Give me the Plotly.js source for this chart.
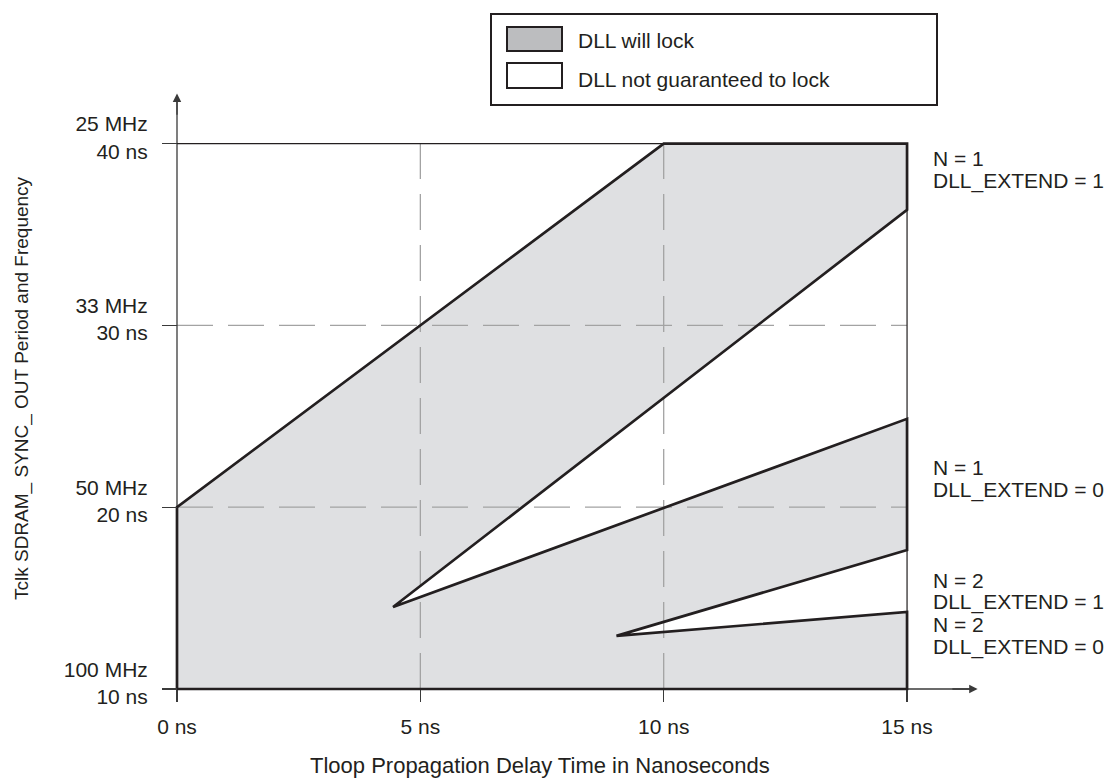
<!DOCTYPE html>
<html>
<head>
<meta charset="utf-8">
<script src="https://cdn.plot.ly/plotly-3.0.1.min.js"></script>
<style>html,body{margin:0;padding:0;background:#fff;}#chart{width:1119px;height:781px;}</style>
</head>
<body>
<div id="chart"></div>
<script>
// ---- Data ----
const xTickVals = [0, 5, 10, 15];
const xTickText = ['0 ns', '5 ns', '10 ns', '15 ns'];
const yTickVals = [10, 20, 30, 40];
const yTickText = ['100 MHz<br>10 ns', '50 MHz<br>20 ns', '33 MHz<br>30 ns', '25 MHz<br>40 ns'];
// Boundary of the "DLL will lock" region (Tloop ns, Tclk ns)
const lockRegionX = [0, 0, 10, 15, 15, 4.44, 15, 15, 9.03, 15, 15, 0];
const lockRegionY = [10, 20, 40, 40, 36.36, 14.51, 24.86, 17.65, 12.92, 14.24, 10, 10];
const gridX = [5, 10];
const gridY = [20, 30];
const xMin = 0, xMax = 15, yMin = 10, yMax = 40;
const legendLabels = ['DLL will lock', 'DLL not guaranteed to lock'];
const caseLabels = [
  ['N = 1', 'DLL_EXTEND = 1'],
  ['N = 1', 'DLL_EXTEND = 0'],
  ['N = 2', 'DLL_EXTEND = 1'],
  ['N = 2', 'DLL_EXTEND = 0']
];
const xTitle = 'Tloop Propagation Delay Time in Nanoseconds';
const yTitle = 'Tclk SDRAM_ SYNC_ OUT Period and Frequency';

// ---- Layout geometry ----
const W = 1119, H = 781;
const M = {l: 170, r: 134, t: 89, b: 87};
const PW = W - M.l - M.r, PH = H - M.t - M.b;
// origin (0 ns, 10 ns) sits at pixel (177, 689); scale in px per ns
const ox = 177, oy = 689, sx = 48.67, sy = 18.18;
const xRange = [xMin - (ox - M.l) / sx, xMin - (ox - M.l) / sx + PW / sx];
const yRange = [yMin - ((H - M.b) - oy) / sy, yMin - ((H - M.b) - oy) / sy + PH / sy];
const px = x => (x - M.l) / PW;
const py = y => (H - M.b - y) / PH;

const ink = '#231f20';
const font = {family: 'Liberation Sans, Arial, sans-serif', size: 21, color: ink};

const traces = [];
traces.push({
  x: lockRegionX, y: lockRegionY, mode: 'lines', fill: 'toself',
  fillcolor: '#dfe0e2', line: {width: 0, color: 'rgba(0,0,0,0)'}, hoverinfo: 'skip', showlegend: false
});
gridX.forEach(v => traces.push({
  x: [v, v], y: [yMin, yMax], mode: 'lines',
  line: {color: '#a3a3a3', width: 1.3, dash: '36px,15px'}, hoverinfo: 'skip', showlegend: false
}));
gridY.forEach(v => traces.push({
  x: [xMin, xMax], y: [v, v], mode: 'lines',
  line: {color: '#a3a3a3', width: 1.3, dash: '36px,15px'}, hoverinfo: 'skip', showlegend: false
}));
// axis lines
traces.push({
  x: [xMin, xMin], y: [yRange[0], 42.5], mode: 'lines',
  line: {color: '#3a3a3a', width: 1.3}, hoverinfo: 'skip', showlegend: false
});
traces.push({
  x: [xMin, 16.3], y: [yMin, yMin], mode: 'lines',
  line: {color: '#3a3a3a', width: 1.3}, hoverinfo: 'skip', showlegend: false
});
// thin frame: top at 40 ns and right at 15 ns
traces.push({
  x: [xMin, xMax, xMax], y: [yMax, yMax, yMin], mode: 'lines',
  line: {color: ink, width: 1.2}, hoverinfo: 'skip', showlegend: false
});
// thick outline of lock region
traces.push({
  x: lockRegionX, y: lockRegionY, mode: 'lines',
  line: {color: ink, width: 2.7}, hoverinfo: 'skip', showlegend: false
});

const shapes = [
  // legend box
  {type: 'rect', xref: 'paper', yref: 'paper', x0: px(491), x1: px(937), y0: py(105), y1: py(14), line: {color: ink, width: 2}, fillcolor: '#fff'},
  {type: 'rect', xref: 'paper', yref: 'paper', x0: px(507), x1: px(562), y0: py(51), y1: py(27), line: {color: ink, width: 2}, fillcolor: '#bcbdbf'},
  {type: 'rect', xref: 'paper', yref: 'paper', x0: px(507), x1: px(562), y0: py(88), y1: py(63), line: {color: ink, width: 2}, fillcolor: '#fff'}
];

const annotations = [
  // arrow heads
  {x: 16.45, y: yMin, ax: 15.9, ay: yMin, xref: 'x', yref: 'y', axref: 'x', ayref: 'y', text: '', showarrow: true, arrowhead: 2, arrowsize: 1.3, arrowwidth: 1.3, arrowcolor: '#3a3a3a', standoff: 0},
  {x: xMin, y: 42.75, ax: xMin, ay: 41.5, xref: 'x', yref: 'y', axref: 'x', ayref: 'y', text: '', showarrow: true, arrowhead: 2, arrowsize: 1.3, arrowwidth: 1.3, arrowcolor: '#3a3a3a', standoff: 0},
  // titles
  {xref: 'paper', yref: 'paper', x: px(540), y: py(765), text: xTitle, showarrow: false, xanchor: 'center', yanchor: 'middle', font: Object.assign({}, font, {size: 22})},
  {xref: 'paper', yref: 'paper', x: px(22), y: py(388), text: yTitle, showarrow: false, textangle: -90, xanchor: 'center', yanchor: 'middle', font: Object.assign({}, font, {size: 19})},
  // legend text
  {xref: 'paper', yref: 'paper', x: px(576), y: py(41), text: legendLabels[0], showarrow: false, xanchor: 'left', yanchor: 'middle', font: font},
  {xref: 'paper', yref: 'paper', x: px(576), y: py(79), text: legendLabels[1], showarrow: false, xanchor: 'left', yanchor: 'middle', font: font}
];
const caseLineY = [[158, 181], [467, 490], [580, 602], [624, 647]];
caseLabels.forEach((lines, i) => lines.forEach((t, j) => annotations.push({
  xref: 'paper', yref: 'paper', x: px(931), y: py(caseLineY[i][j]), text: t, showarrow: false,
  xanchor: 'left', yanchor: 'middle', font: font
})));

const layout = {
  width: W, height: H, margin: M,
  paper_bgcolor: '#fff', plot_bgcolor: 'rgba(0,0,0,0)',
  font: font, showlegend: false,
  xaxis: {range: xRange, tickvals: xTickVals, ticktext: xTickText, ticks: 'outside', ticklen: 12,
          tickwidth: 1.2, tickcolor: '#3a3a3a', showgrid: false, zeroline: false, showline: false,
          anchor: 'free', position: (yMin - yRange[0]) / (yRange[1] - yRange[0]),
          ticklabelstandoff: 7, tickfont: font, fixedrange: true},
  yaxis: {range: yRange, tickvals: yTickVals, ticktext: yTickText, ticks: 'outside', ticklen: 15,
          tickwidth: 1.2, tickcolor: '#3a3a3a', showgrid: false, zeroline: false, showline: false,
          anchor: 'free', position: (xMin - xRange[0]) / (xRange[1] - xRange[0]),
          ticklabelstandoff: 10, ticklabelshift: -6, tickfont: font, fixedrange: true},
  shapes: shapes, annotations: annotations
};
Plotly.newPlot('chart', traces, layout, {staticPlot: true, displayModeBar: false});
</script>
</body>
</html>
